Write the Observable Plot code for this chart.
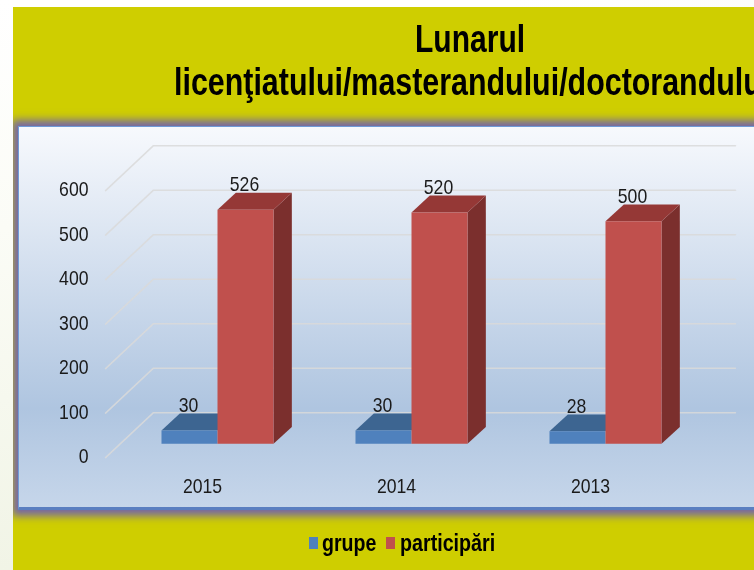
<!DOCTYPE html>
<html>
<head>
<meta charset="utf-8">
<script src="https://cdn.jsdelivr.net/npm/d3@7"></script>
<script src="https://cdn.jsdelivr.net/npm/@observablehq/plot@0.6"></script>
<style>
html,body{margin:0;padding:0;width:754px;height:570px;overflow:hidden;background:linear-gradient(100deg,#ffffff 0%,#ffffff 60%,#fbfcf8 100%);}
#left{position:absolute;left:0;top:0;width:13px;height:570px;background:linear-gradient(180deg,#ffffff 0%,#fbfcf6 40%,#f1f4e6 100%);}
#page{position:absolute;left:13px;top:7px;width:741px;height:563px;overflow:hidden;background:#cfce00;}
#panel{position:absolute;left:5px;top:119px;width:760px;height:384px;box-sizing:border-box;border:1px solid #6f9bd8;border-bottom:3px solid #5b7fc0;
  background:linear-gradient(180deg,#f7f9fd 0%,#afc5e0 74%,#c6d6ea 100%);box-shadow:0 0 8px 6px #7566a6;}
#chart{position:absolute;left:5px;top:119px;}
.t{position:absolute;white-space:nowrap;font-family:"Liberation Sans",sans-serif;font-weight:700;color:#000;transform-origin:left top;filter:blur(.4px);}
.sw{position:absolute;width:9px;height:12px;}
</style>
</head>
<body>
<div id="left"></div>
<div id="page">
  <div class="t" id="t1" style="left:402px;top:13px;font-size:38px;line-height:38px;transform:scaleX(.79);">Lunarul</div>
  <div class="t" id="t2" style="left:161px;top:56px;font-size:38px;line-height:38px;transform:scaleX(.8);">licenţiatului/masterandului/doctorandului</div>
  <div id="panel"></div>
  <div id="chart"></div>
  <div class="sw" style="left:296px;top:530px;background:#4f81bd"></div>
  <div class="t" style="left:309px;top:523px;font-size:24px;line-height:26px;transform:scaleX(.815);">grupe</div>
  <div class="sw" style="left:373px;top:530px;background:#c0504d"></div>
  <div class="t" style="left:387px;top:523px;font-size:24px;line-height:26px;transform:scaleX(.82);">participări</div>
</div>
<script>
// Data
const years = ["2015", "2014", "2013"];
const grupe = [30, 30, 28];
const participari = [526, 520, 500];
const axisTicks = [0, 100, 200, 300, 400, 500, 600];

// Pseudo-3D projection, in scale units (x: one category slot, y: chart value)
const barW = 0.2887, depthX = 0.0945, depthY = 38;
const wallFront = {x: -0.077, y: -31}, wallBack = {x: 0.17, y: 70}, wallEnd = 3.17;

const colors = {
  grupe: {front: "#4f81bd", top: "#3d6591"},
  participari: {front: "#c0504d", top: "#953836", side: "#7b2f2d"}
};

const grid = axisTicks.flatMap(t => [
  {t, x: wallFront.x, y: t + wallFront.y},
  {t, x: wallBack.x, y: t + wallBack.y},
  {t, x: wallEnd, y: t + wallBack.y}
]);

function face(id, pts, fill) { return pts.map(([x, y]) => ({id, x, y, fill})); }
const faces = [];
years.forEach((yr, i) => {
  const mid = i + 0.5;
  const gv = grupe[i], pv = participari[i];
  const gx0 = mid - barW, gx1 = mid;
  faces.push(...face(`g-top-${i}`, [[gx0, gv], [gx0 + depthX, gv + depthY], [gx1 + depthX, gv + depthY], [gx1, gv]], colors.grupe.top));
  faces.push(...face(`g-front-${i}`, [[gx0, 0], [gx0, gv], [gx1, gv], [gx1, 0]], colors.grupe.front));
  const px0 = mid, px1 = mid + barW;
  faces.push(...face(`p-side-${i}`, [[px1, 0], [px1 + depthX, depthY], [px1 + depthX, pv + depthY], [px1, pv]], colors.participari.side));
  faces.push(...face(`p-top-${i}`, [[px0, pv], [px0 + depthX, pv + depthY], [px1 + depthX, pv + depthY], [px1, pv]], colors.participari.top));
  faces.push(...face(`p-front-${i}`, [[px0, 0], [px0, pv], [px1, pv], [px1, 0]], colors.participari.front));
});

const labels = years.flatMap((yr, i) => [
  {x: i + 0.5 - barW / 2, y: grupe[i], text: String(grupe[i])},
  {x: i + 0.5 + barW / 2, y: participari[i], text: String(participari[i])}
]);

const font = '"Liberation Sans",sans-serif';
const chart = Plot.plot({
  width: 736, height: 384,
  marginLeft: 102, marginRight: 52, marginTop: 50, marginBottom: 32,
  style: {background: "transparent", fontFamily: font, fontSize: "21px", color: "#1a1a1a", filter: "blur(.45px)"},
  x: {domain: [0, 3], range: [102, 684]},
  y: {domain: [0, 600], range: [317.3, 50.3]},
  marks: [
    Plot.line(grid, {x: "x", y: "y", z: "t", stroke: "#d9d9d9", strokeWidth: 1.5, strokeOpacity: 0.85, curve: "linear"}),
    Plot.line(faces, {x: "x", y: "y", z: "id", fill: "fill", curve: "linear"}),
    Plot.text(labels, {x: "x", y: "y", text: "text", dy: -25.5, dx: -1, fill: "#1a1a1a"}),
    Plot.axisY({ticks: axisTicks, tickSize: 0, tickPadding: 32, dy: 12.5, label: null, fill: "#1a1a1a"}),
    Plot.axisX({ticks: [0.5, 1.5, 2.5], tickFormat: d => years[Math.floor(d)], tickSize: 0, tickPadding: 0, dx: -15, label: null, fill: "#1a1a1a"})
  ]
});
document.getElementById("chart").appendChild(chart);
// The reference's labels are set in a condensed face: narrow the glyphs to match
chart.querySelectorAll("text").forEach(t => {
  t.setAttribute("textLength", (t.getComputedTextLength() * 0.84).toFixed(1));
  t.setAttribute("lengthAdjust", "spacingAndGlyphs");
});
</script>
</body>
</html>
